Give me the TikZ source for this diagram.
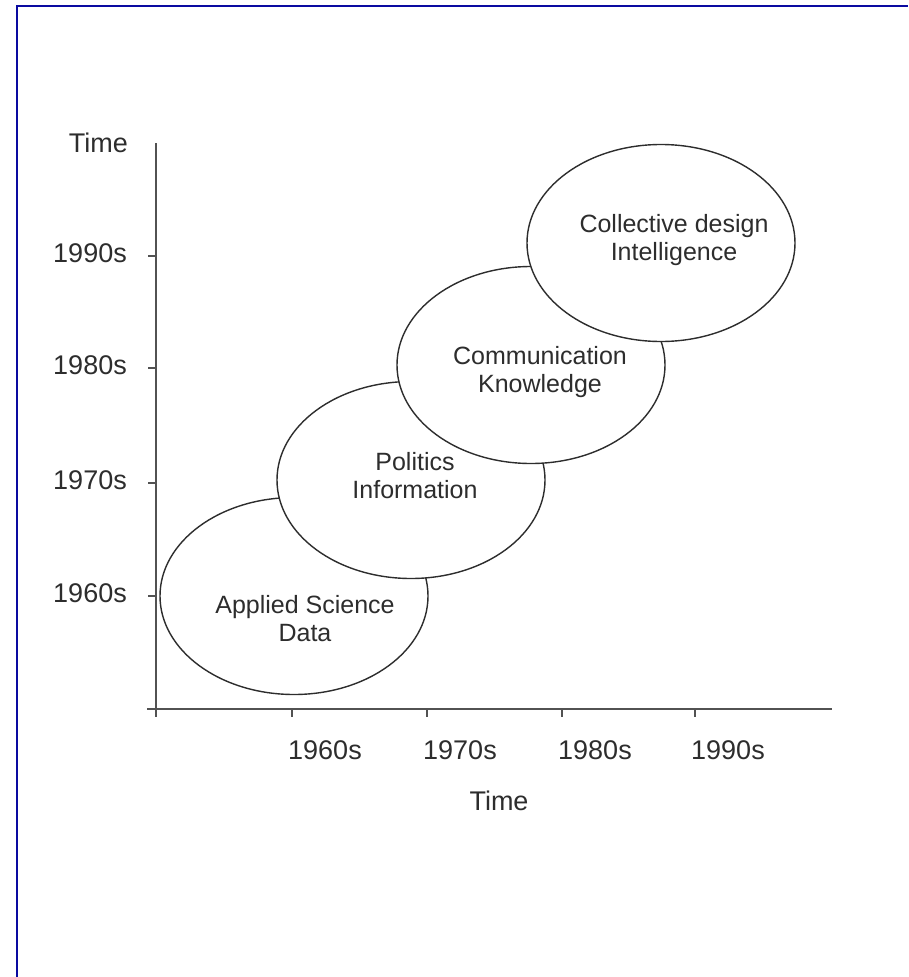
\documentclass[tikz,border=0pt]{standalone}
\usepackage{fontspec}
\setmainfont{Liberation Sans}
\usetikzlibrary{shapes.geometric}
\definecolor{framecol}{RGB}{10,10,160}
\definecolor{inkcol}{RGB}{45,45,45}
\begin{document}
\begin{tikzpicture}[x=1pt,y=-1pt,
  axisline/.style={draw=black!68, line width=1.8pt},
  tickline/.style={draw=black!68, line width=1.4pt},
  era/.style={ellipse, draw=inkcol, fill=white, line width=1.4pt,
    minimum width=268pt, minimum height=197pt, inner sep=0pt, outer sep=0pt},
  eratext/.style={align=center, inner sep=0pt, text=inkcol,
    font=\fontsize{25}{28}\selectfont},
  lbl/.style={inner sep=0pt, text=inkcol, font=\fontsize{27}{30}\selectfont}]
\useasboundingbox (0,0) rectangle (908,977);
% frame (only top and left edges visible)
\draw[framecol, line width=2.6pt] (17,977) -- (17,6) -- (908,6);

% axes
\coordinate (ytop) at (156,143);
\coordinate (ybot) at (156,717);
\coordinate (xleft) at (147,709);
\coordinate (xright) at (832,709);
\draw[axisline] (ytop) -- (ybot);
\draw[axisline] (xleft) -- (xright);

% y ticks and labels
\foreach \y/\t in {256/1990s, 368/1980s, 483/1970s, 596/1960s}{
  \draw[tickline] (148,\y) -- (156,\y);
  \node[lbl, anchor=east] (ylab\t) at (127,\y-3) {\t};
}
\node[lbl, anchor=east] (ytime) at (128,143) {Time};

% x ticks and labels
\foreach \x/\t in {292/1960s, 427/1970s, 562/1980s, 695/1990s}{
  \draw[tickline] (\x,709) -- (\x,717);
  \node[lbl, anchor=north west] (xlab\t) at (\x-4,740) {\t};
}
\node[lbl, anchor=north] (xtime) at (499,791) {Time};

% eras
\node[era] (e1) at (294,596) {};
\node[eratext] (t1) at (305,619) {Applied Science\\Data};
\node[era] (e2) at (411,480) {};
\node[eratext] (t2) at (415,476) {Politics\\Information};
\node[era] (e3) at (531,365) {};
\node[eratext] (t3) at (540,372) {Communication\\Knowledge};
\node[era] (e4) at (661,243) {};
\node[eratext] (t4) at (674,240) {Collective design\\Intelligence};
\end{tikzpicture}
\end{document}
